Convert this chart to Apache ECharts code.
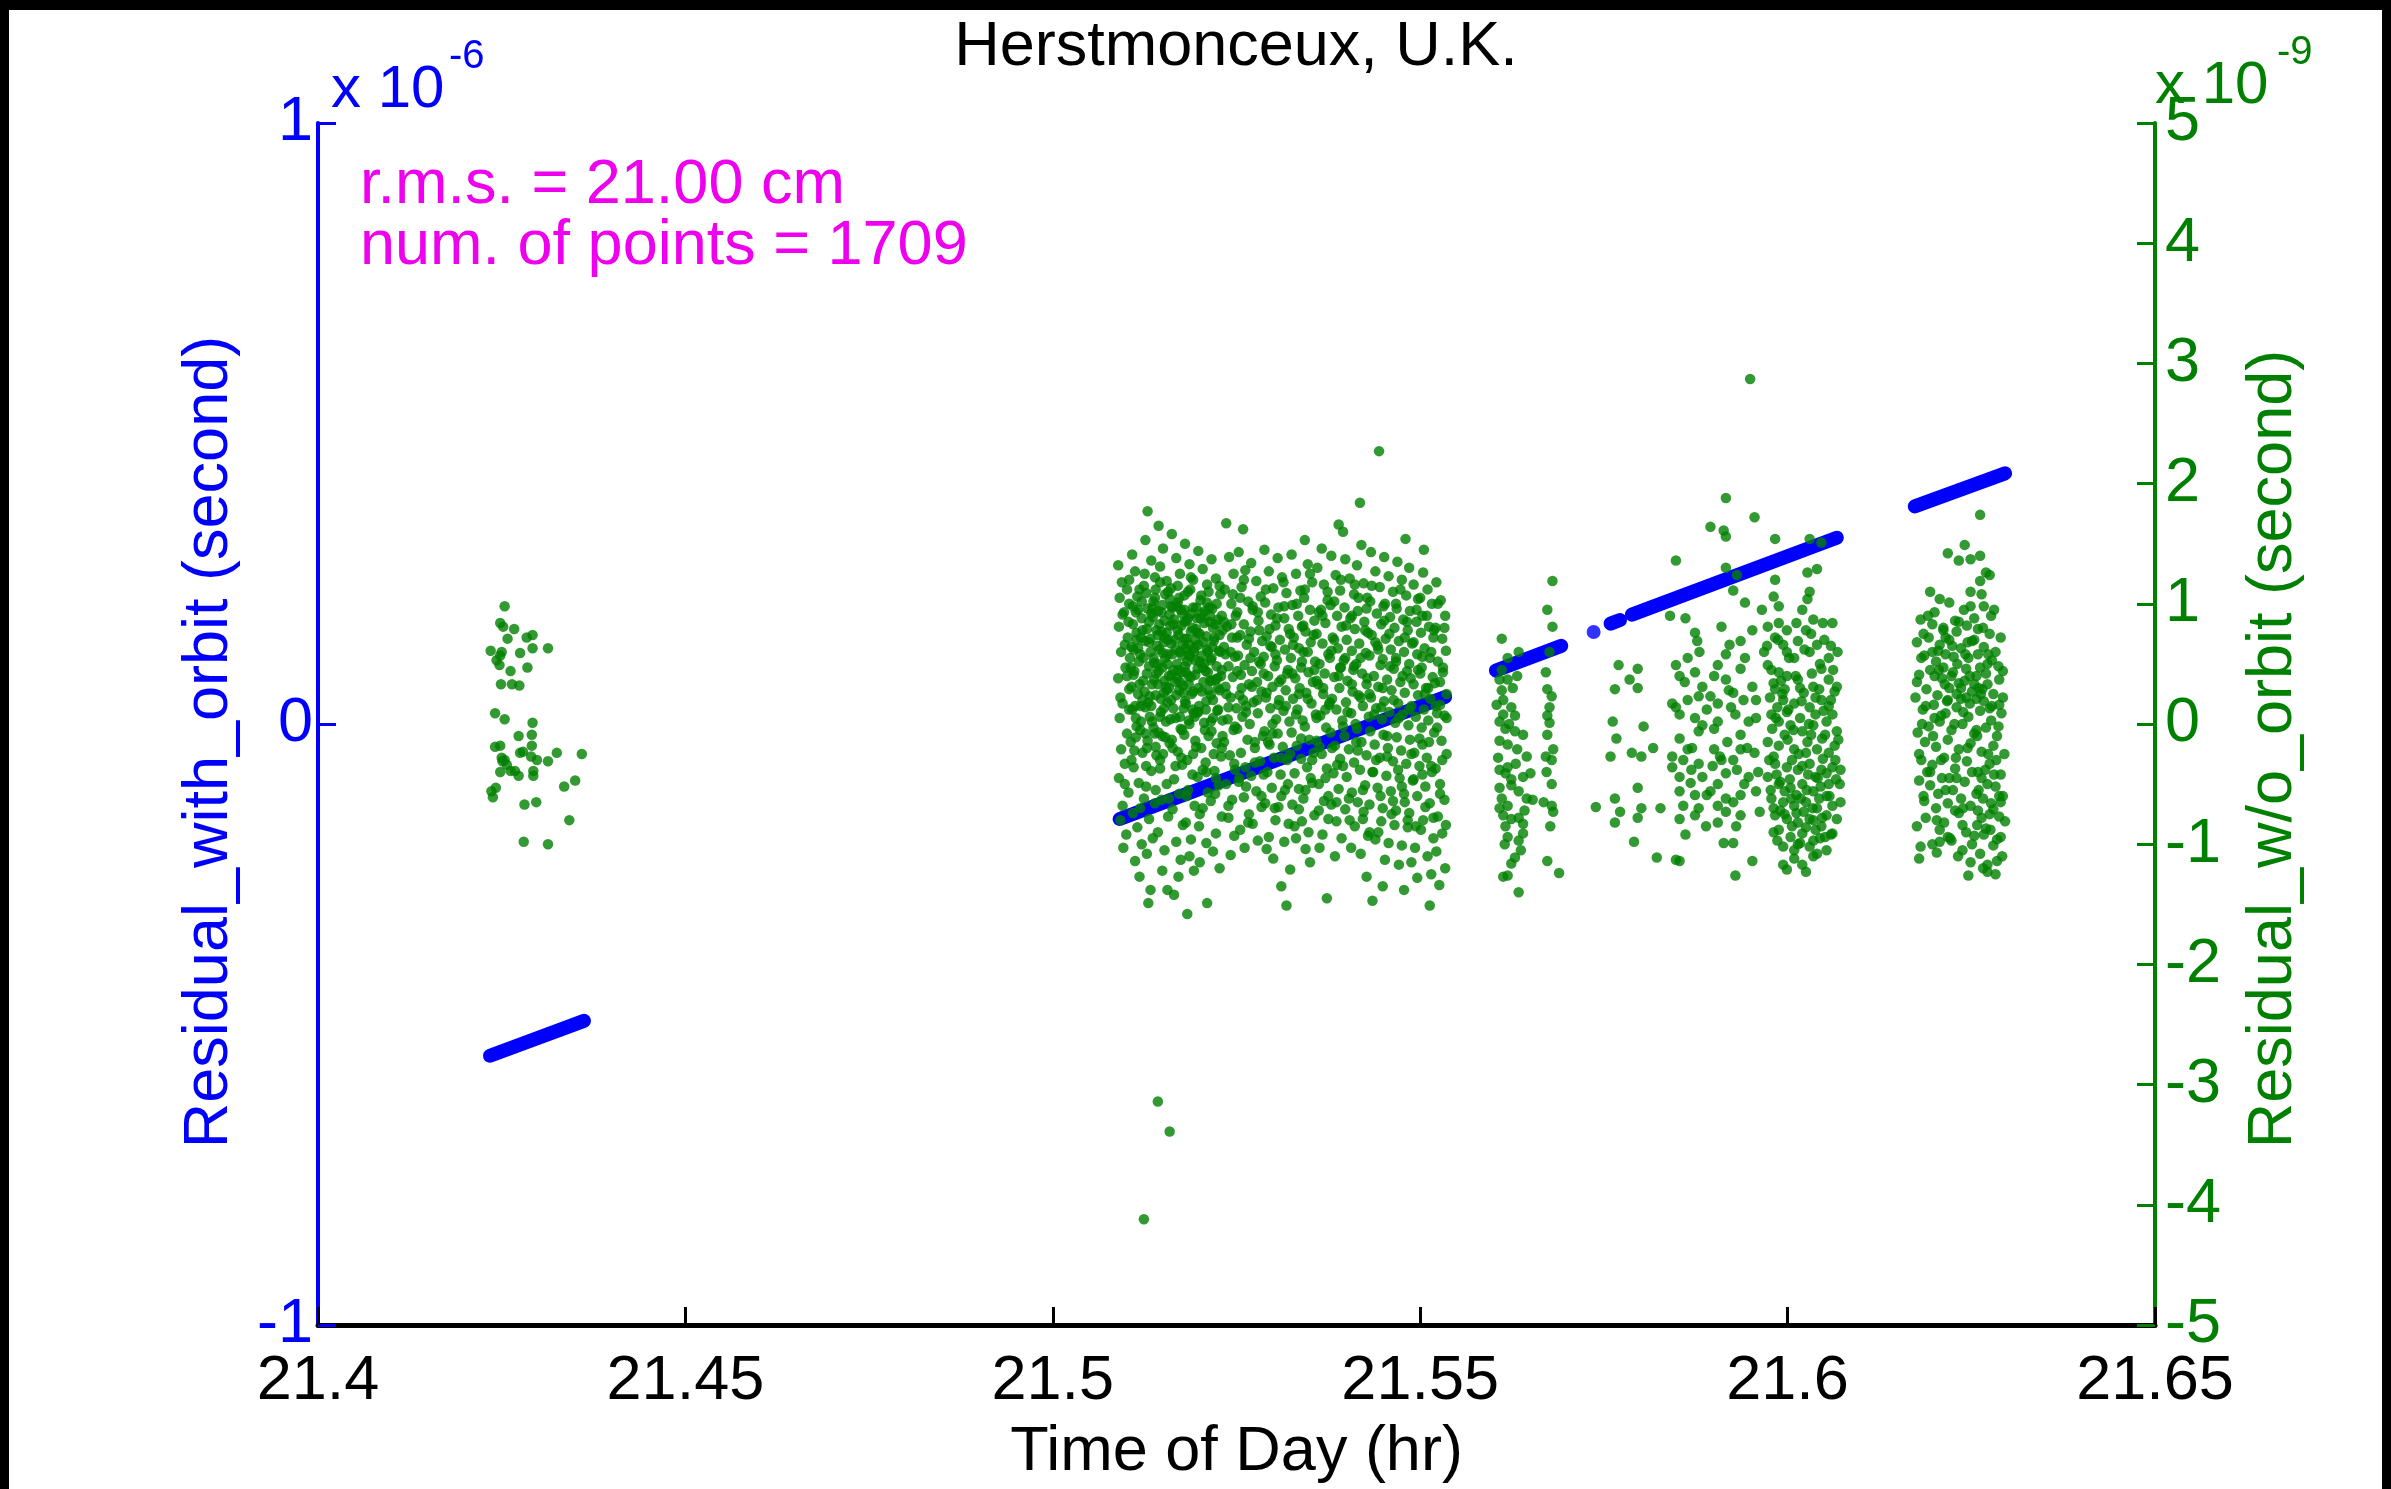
<!DOCTYPE html>
<html>
<head>
<meta charset="utf-8">
<title>Herstmonceux, U.K.</title>
<script src="https://cdn.jsdelivr.net/npm/echarts@6/dist/echarts.min.js"></script>
<style>
  html, body { margin: 0; padding: 0; background: #000; width: 2391px; height: 1489px; overflow: hidden; }
  #chart { position: absolute; left: 9px; top: 10px; width: 2373px; height: 1479px; background: #fff; }
</style>
</head>
<body>
<div id="chart"></div>
<script>
// Time of day axis (hours) and the two residual axes
const timeRange = [21.4, 21.65];
const timeStep = 0.05;
const withOrbitRange = [-1, 1];      // x 10^-6 s
const withoutOrbitRange = [-5, 5];   // x 10^-9 s

// Residual with orbit (x 10^-6 s): continuous passes drawn as thick strokes
const withOrbitSegments = [
  [[21.4234, -0.552], [21.4362, -0.494]],
  [[21.5091, -0.158], [21.5534, 0.045]],
  [[21.5603, 0.089], [21.5692, 0.130]],
  [[21.5759, 0.167], [21.5772, 0.173]],
  [[21.5788, 0.182], [21.6067, 0.310]],
  [[21.6173, 0.362], [21.6296, 0.417]]
];
const withOrbitDots = [[21.5736, 0.153]];

// Residual without orbit (x 10^-9 s), one array per pass
const pass1 = [[21.4254,.98],[21.4248,.84],[21.4252,.81],[21.4267,.79],[21.4258,.71],[21.4292,.74],[21.4292,.63],[21.4313,.63],[21.4235,.61],[21.4250,.60],[21.4275,.59],[21.4243,.53],[21.4247,.49],[21.4285,.47],[21.4262,.44],[21.4249,.33],[21.4264,.33],[21.4274,.32],[21.4241,.09],[21.4254,.04],[21.4292,.01],[21.4273,-.10],[21.4291,-.09],[21.4241,-.19],[21.4291,-.18],[21.4250,-.28],[21.4275,-.24],[21.4290,-.27],[21.4325,-.24],[21.4359,-.25],[21.4251,-.31],[21.4313,-.31],[21.4248,-.40],[21.4262,-.39],[21.4273,-.43],[21.4293,-.39],[21.4293,-.43],[21.4236,-.56],[21.4242,-.53],[21.4238,-.61],[21.4335,-.52],[21.4350,-.47],[21.4281,-.67],[21.4297,-.65],[21.4342,-.80],[21.4280,-.98],[21.4313,-1.00],[21.4248,.57],[21.4284,.72],[21.4254,-.30],[21.4279,-.23],[21.4298,-.30],[21.4268,-.39],[21.4248,-.18],[21.4257,-.34]];

const pass2 = [
[21.5089,1.32],[21.5094,1.18],[21.5091,1.05],[21.5097,.93],[21.5090,.81],[21.5102,.72],[21.5093,.6],[21.5099,.47],[21.5089,.38],[21.5104,.29],[21.5095,.17],[21.5091,.05],[21.5101,-.08],[21.5093,-.21],[21.5098,-.33],[21.5090,-.45],[21.5103,-.57],[21.5095,-.68],[21.5092,-.8],[21.5100,-.92],[21.5096,-1.03],[21.5105,.55],[21.5106,-.15],[21.5104,1.0],
[21.5108,1.41],[21.5112,1.27],[21.5118,1.12],[21.5109,.98],[21.5121,.88],[21.5114,.76],[21.5107,.64],[21.5119,.58],[21.5111,.44],[21.5123,.36],[21.5116,.25],[21.5108,.12],[21.5120,.02],[21.5113,-.11],[21.5122,-.24],[21.5110,-.36],[21.5117,-.49],[21.5124,-.62],[21.5109,-.74],[21.5115,-.86],[21.5121,-1.0],[21.5112,-1.14],[21.5118,-1.27],[21.5114,.7],[21.5120,.15],
[21.5129,1.77],[21.5126,1.53],[21.5134,1.36],[21.5139,1.22],[21.5127,1.09],[21.5136,.97],[21.5131,.85],[21.5141,.78],[21.5125,.69],[21.5133,.6],[21.5138,.51],[21.5128,.42],[21.5135,.33],[21.5140,.24],[21.5126,.14],[21.5132,.06],[21.5137,-.03],[21.5129,-.14],[21.5141,-.26],[21.5134,-.39],[21.5127,-.52],[21.5139,-.66],[21.5131,-.79],[21.5136,-.95],[21.5128,-1.08],[21.5130,-1.49],[21.5133,-1.38],
[21.5144,1.65],[21.5150,1.46],[21.5146,1.31],[21.5155,1.19],[21.5159,1.04],[21.5143,.94],[21.5152,.86],[21.5148,.77],[21.5157,.7],[21.5145,.62],[21.5153,.55],[21.5149,.47],[21.5158,.4],[21.5143,.33],[21.5151,.26],[21.5156,.18],[21.5147,.1],[21.5154,.02],[21.5144,-.07],[21.5159,-.16],[21.5150,-.25],[21.5146,-.37],[21.5155,-.5],[21.5148,-.63],[21.5157,-.77],[21.5143,-.9],[21.5152,-1.05],[21.5149,-1.22],[21.5156,-1.38],
[21.5162,1.58],[21.5168,1.38],[21.5173,1.25],[21.5161,1.13],[21.5170,1.01],[21.5176,.92],[21.5164,.83],[21.5171,.74],[21.5177,.66],[21.5163,.58],[21.5169,.5],[21.5175,.43],[21.5166,.35],[21.5172,.28],[21.5161,.2],[21.5178,.13],[21.5167,.05],[21.5174,-.04],[21.5162,-.13],[21.5170,-.23],[21.5176,-.34],[21.5165,-.46],[21.5172,-.58],[21.5163,-.71],[21.5177,-.84],[21.5168,-.98],[21.5174,-1.13],[21.5165,-1.42],[21.5171,-1.27],
[21.5180,1.5],[21.5186,1.33],[21.5191,1.2],[21.5179,1.07],[21.5195,.97],[21.5184,.88],[21.5190,.8],[21.5182,.71],[21.5193,.63],[21.5187,.56],[21.5180,.48],[21.5194,.41],[21.5185,.33],[21.5189,.25],[21.5181,.17],[21.5192,.09],[21.5186,0],[21.5179,-.09],[21.5195,-.19],[21.5183,-.3],[21.5190,-.42],[21.5184,-.55],[21.5193,-.68],[21.5181,-.82],[21.5188,-.96],[21.5183,-1.58],[21.5192,-1.22],[21.5186,-1.1],
[21.5198,1.44],[21.5204,1.29],[21.5210,1.16],[21.5201,1.03],[21.5207,.94],[21.5213,.85],[21.5197,.76],[21.5205,.68],[21.5211,.6],[21.5200,.52],[21.5208,.44],[21.5214,.36],[21.5203,.27],[21.5209,.19],[21.5198,.1],[21.5206,.01],[21.5212,-.1],[21.5202,-.2],[21.5208,-.32],[21.5197,-.44],[21.5211,-.57],[21.5204,-.7],[21.5199,-.85],[21.5209,-.99],[21.5200,-1.15],[21.5210,-1.49],
[21.5216,1.37],[21.5222,1.21],[21.5228,1.08],[21.5217,.96],[21.5225,.87],[21.5231,.78],[21.5219,.69],[21.5226,.61],[21.5215,.53],[21.5230,.45],[21.5221,.37],[21.5227,.28],[21.5218,.2],[21.5224,.11],[21.5231,.03],[21.5216,-.06],[21.5223,-.16],[21.5229,-.27],[21.5220,-.39],[21.5226,-.51],[21.5215,-.64],[21.5230,-.77],[21.5222,-.91],[21.5218,-1.06],[21.5227,-1.2],
[21.5236,1.67],[21.5240,1.39],[21.5246,1.25],[21.5234,1.12],[21.5243,1.0],[21.5249,.9],[21.5237,.81],[21.5244,.72],[21.5233,.64],[21.5248,.56],[21.5239,.48],[21.5245,.39],[21.5235,.31],[21.5242,.22],[21.5250,.13],[21.5238,.04],[21.5246,-.05],[21.5233,-.15],[21.5241,-.26],[21.5248,-.38],[21.5236,-.5],[21.5244,-.63],[21.5239,-.78],[21.5247,-.93],[21.5242,-1.09],
[21.5259,1.62],[21.5253,1.43],[21.5262,1.28],[21.5257,1.14],[21.5266,1.02],[21.5251,.93],[21.5260,.83],[21.5255,.74],[21.5264,.66],[21.5252,.57],[21.5261,.49],[21.5256,.41],[21.5267,.33],[21.5254,.24],[21.5263,.15],[21.5258,.06],[21.5251,-.04],[21.5265,-.13],[21.5256,-.24],[21.5262,-.36],[21.5253,-.48],[21.5260,-.61],[21.5267,-.75],[21.5255,-.88],[21.5261,-1.03],
[21.5270,1.34],[21.5277,1.19],[21.5283,1.06],[21.5272,.95],[21.5280,.86],[21.5269,.77],[21.5285,.69],[21.5274,.6],[21.5281,.52],[21.5271,.44],[21.5278,.35],[21.5284,.27],[21.5273,.18],[21.5279,.09],[21.5268,0],[21.5286,-.1],[21.5275,-.2],[21.5282,-.31],[21.5270,-.43],[21.5277,-.56],[21.5284,-.69],[21.5272,-.83],[21.5279,-.97],
[21.5288,1.45],[21.5294,1.27],[21.5300,1.13],[21.5289,1.01],[21.5297,.91],[21.5303,.82],[21.5291,.73],[21.5298,.64],[21.5287,.56],[21.5302,.48],[21.5293,.4],[21.5299,.31],[21.5290,.22],[21.5296,.13],[21.5304,.04],[21.5288,-.06],[21.5295,-.17],[21.5301,-.28],[21.5292,-.4],[21.5298,-.53],[21.5289,-.66],[21.5303,-.8],[21.5294,-.94],[21.5291,-1.04],[21.5300,-1.12],
[21.5306,1.38],[21.5312,1.22],[21.5318,1.09],[21.5307,.97],[21.5315,.88],[21.5321,.79],[21.5309,.7],[21.5316,.62],[21.5305,.53],[21.5320,.45],[21.5311,.37],[21.5317,.28],[21.5308,.2],[21.5314,.11],[21.5322,.02],[21.5306,-.08],[21.5313,-.19],[21.5319,-.3],[21.5310,-.42],[21.5316,-.55],[21.5307,-.69],[21.5321,-.83],[21.5311,-1.35],[21.5318,-1.51],[21.5315,-.98],
[21.5323,-1.21],[21.5325,1.41],[21.5331,1.25],[21.5337,1.11],[21.5326,.99],[21.5334,.9],[21.5339,.81],[21.5328,.72],[21.5335,.63],[21.5324,.55],[21.5338,.47],[21.5330,.38],[21.5336,.3],[21.5327,.21],[21.5333,.12],[21.5340,.03],[21.5325,-.07],[21.5332,-.18],[21.5338,-.29],[21.5329,-.41],[21.5335,-.54],[21.5326,-.67],[21.5339,-.81],[21.5331,-.95],
[21.5343,1.53],[21.5347,1.33],[21.5353,1.18],[21.5342,1.05],[21.5350,.95],[21.5356,.86],[21.5344,.77],[21.5351,.68],[21.5341,.6],[21.5357,.52],[21.5348,.43],[21.5354,.35],[21.5345,.26],[21.5352,.17],[21.5358,.08],[21.5343,-.02],[21.5349,-.13],[21.5355,-.24],[21.5346,-.36],[21.5353,-.49],[21.5341,-.62],[21.5356,-.76],[21.5348,-.9],[21.5350,-1.15],[21.5344,-1.04],
[21.5366,1.46],[21.5360,1.3],[21.5369,1.16],[21.5374,1.03],[21.5362,.93],[21.5371,.84],[21.5359,.75],[21.5367,.67],[21.5375,.58],[21.5363,.5],[21.5370,.42],[21.5361,.33],[21.5368,.25],[21.5376,.16],[21.5364,.07],[21.5372,-.03],[21.5359,-.14],[21.5366,-.25],[21.5373,-.37],[21.5362,-.5],[21.5369,-.64],[21.5363,-1.03],[21.5373,-1.45],[21.5375,-.79],[21.5367,-.92],
[21.5389,1.66],[21.5379,1.4],[21.5385,1.24],[21.5391,1.11],[21.5378,.99],[21.5387,.9],[21.5393,.81],[21.5381,.72],[21.5388,.63],[21.5377,.55],[21.5392,.47],[21.5383,.39],[21.5390,.3],[21.5380,.21],[21.5386,.12],[21.5394,.03],[21.5378,-.07],[21.5384,-.18],[21.5391,-.29],[21.5382,-.41],[21.5389,-.54],[21.5379,-.67],[21.5386,-.81],[21.5393,-.95],[21.5384,-1.1],
[21.5395,1.6],[21.5398,1.37],[21.5404,1.21],[21.5410,1.08],[21.5397,.97],[21.5405,.88],[21.5411,.79],[21.5400,.7],[21.5407,.61],[21.5396,.53],[21.5409,.45],[21.5401,.36],[21.5408,.27],[21.5399,.18],[21.5406,.09],[21.5412,0],[21.5397,-.1],[21.5403,-.21],[21.5410,-.32],[21.5400,-.44],[21.5407,-.57],[21.5398,-.71],[21.5406,-1.03],[21.5411,-.85],
[21.5418,1.84],[21.5420,1.49],[21.5414,1.32],[21.5423,1.17],[21.5428,1.05],[21.5415,.94],[21.5424,.85],[21.5429,.76],[21.5417,.67],[21.5426,.59],[21.5413,.5],[21.5421,.42],[21.5427,.33],[21.5416,.24],[21.5422,.15],[21.5430,.06],[21.5414,-.04],[21.5420,-.15],[21.5427,-.26],[21.5418,-.38],[21.5425,-.51],[21.5415,-.65],[21.5422,-.79],[21.5429,-.93],[21.5419,-1.08],[21.5427,-1.27],
[21.5444,2.27],[21.5435,-1.47],[21.5433,1.43],[21.5439,1.27],[21.5445,1.14],[21.5432,1.02],[21.5441,.92],[21.5447,.83],[21.5434,.74],[21.5442,.65],[21.5431,.57],[21.5446,.49],[21.5437,.4],[21.5443,.31],[21.5433,.22],[21.5440,.13],[21.5448,.04],[21.5432,-.06],[21.5438,-.17],[21.5445,-.28],[21.5436,-.4],[21.5442,-.53],[21.5431,-.67],[21.5447,-.81],[21.5439,-.96],
[21.5449,-1.35],[21.5452,-1.13],[21.5451,1.39],[21.5457,1.23],[21.5463,1.1],[21.5450,.98],[21.5459,.89],[21.5465,.8],[21.5453,.71],[21.5460,.62],[21.5449,.54],[21.5464,.46],[21.5455,.37],[21.5461,.28],[21.5451,.19],[21.5458,.1],[21.5466,.01],[21.5450,-.09],[21.5456,-.2],[21.5463,-.31],[21.5454,-.43],[21.5460,-.56],[21.5449,-.7],[21.5465,-.84],[21.5457,-.99],
[21.5480,1.54],[21.5469,1.35],[21.5475,1.2],[21.5481,1.07],[21.5468,.96],[21.5477,.87],[21.5483,.78],[21.5471,.69],[21.5478,.6],[21.5467,.52],[21.5482,.44],[21.5473,.35],[21.5479,.26],[21.5470,.17],[21.5476,.08],[21.5484,-.01],[21.5468,-.11],[21.5474,-.22],[21.5481,-.33],[21.5472,-.45],[21.5478,-.58],[21.5467,-.72],[21.5483,-.86],[21.5475,-1.01],[21.5478,-1.38],[21.5471,-1.17],
[21.5485,1.3],[21.5488,-1.15],[21.5491,1.16],[21.5497,1.04],[21.5486,.94],[21.5495,.85],[21.5501,.76],[21.5489,.67],[21.5496,.58],[21.5485,.5],[21.5500,.42],[21.5491,.33],[21.5497,.24],[21.5488,.15],[21.5494,.06],[21.5502,-.03],[21.5486,-.13],[21.5492,-.24],[21.5499,-.35],[21.5490,-.47],[21.5496,-.6],[21.5485,-.74],[21.5501,-.88],[21.5493,-1.03],[21.5496,-1.28],
[21.5505,1.45],[21.5513,-1.51],[21.5504,1.26],[21.5510,1.12],[21.5516,1.0],[21.5503,.9],[21.5512,.81],[21.5518,.72],[21.5506,.63],[21.5513,.55],[21.5502,.47],[21.5517,.39],[21.5508,.3],[21.5514,.21],[21.5505,.12],[21.5511,.03],[21.5519,-.07],[21.5503,-.17],[21.5509,-.28],[21.5516,-.4],[21.5507,-.52],[21.5513,-.66],[21.5504,-.8],[21.5518,-.95],[21.5510,-1.1],[21.5515,-1.25],
[21.5522,1.18],[21.5528,1.03],[21.5534,.9],[21.5521,.8],[21.5530,.71],[21.5535,.61],[21.5524,.52],[21.5531,.43],[21.5520,.34],[21.5536,.25],[21.5527,.16],[21.5533,.07],[21.5523,-.03],[21.5529,-.14],[21.5536,-.25],[21.5521,-.37],[21.5527,-.5],[21.5533,-.63],[21.5524,-.77],[21.5530,-.91],[21.5522,-1.06],[21.5534,-1.2],[21.5526,-1.34],
[21.5103,.85],[21.5107,.31],[21.5111,-.22],[21.5113,.93],[21.5117,.52],[21.5119,-.05],[21.5122,.78],[21.5125,.27],[21.5127,-.35],[21.5129,.96],[21.5131,.48],[21.5133,.71],[21.5135,.02],[21.5136,.89],[21.5138,.37],[21.5140,-.19],[21.5142,.65],[21.5144,.44],[21.5145,.83],[21.5147,.21],[21.5149,.99],[21.5150,.59],[21.5152,.36],[21.5153,-.11],[21.5155,.76],[21.5156,.5],[21.5158,.3],[21.5159,.91],[21.5161,.67],[21.5162,.41],[21.5164,.13],[21.5165,.87],[21.5167,.62],[21.5168,.24],[21.5170,.78],[21.5171,.45],[21.5173,.06],[21.5174,.95],[21.5176,.57],[21.5177,.32],[21.5179,.71],[21.5180,.19],[21.5182,.86],[21.5183,.52],[21.5185,.03],[21.5186,.66],[21.5188,.39],[21.5189,.92],[21.5191,.27],[21.5192,.6],[21.5194,-.14],[21.5195,.79],[21.5197,.46],[21.5199,.15],[21.5201,.88],[21.5203,.57],[21.5205,.35],[21.5207,-.05],[21.5209,.73],[21.5211,.43],[21.5213,.97],[21.5215,.24],[21.5217,.64],[21.5219,-.25],[21.5221,.83],[21.5223,.48],[21.5225,.12],[21.5227,.74],[21.5229,.4],[21.5231,-.1],[21.5112,.15],[21.5116,.63],[21.5121,1.02],[21.5126,-.08],[21.5132,.23],[21.5139,1.05],[21.5146,-.3],[21.5151,.13],[21.5157,1.1],[21.5163,-.2],[21.5169,.98],[21.5175,-.28],[21.5181,.43],[21.5187,1.12],[21.5193,.06],[21.5198,.66],[21.5204,-.38],[21.5210,1.01],[21.5216,.36],[21.5222,-.45],
[21.5098,.66],[21.5101,1.12],[21.5104,.12],[21.5109,.83],[21.5110,.41],[21.5115,1.06],[21.5118,.33],[21.5120,.72],[21.5123,.55],[21.5124,1.15],[21.5128,.79],[21.5130,.18],[21.5134,.92],[21.5137,.55],[21.5140,1.12],[21.5141,.42],[21.5143,.74],[21.5146,.06],[21.5148,.93],[21.5151,.68],[21.5153,1.08],[21.5154,.31],[21.5157,.58],[21.5160,.82],[21.5160,.04],[21.5163,.97],[21.5166,.7],[21.5169,.38],[21.5172,1.05],[21.5173,.6],[21.5175,.82],[21.5178,.26],[21.5179,.95],[21.5181,.63],[21.5184,1.1],[21.5185,.4],[21.5188,.77],[21.5190,.12],[21.5191,.97],[21.5194,.53],[21.5196,.88],[21.5198,.3],[21.5200,.75],[21.5202,1.07],[21.5204,.47],[21.5206,.84],[21.5208,.12],[21.5210,.62],[21.5212,.28],[21.5214,.9],[21.5216,.55],[21.5218,.05],[21.5220,.72],[21.5223,1.0],[21.5225,.3],[21.5228,.6],[21.5230,.9],[21.5106,.47],[21.5114,-.02],[21.5139,-.08],
[21.5235,.58],[21.5239,.14],[21.5243,.83],[21.5247,-.33],[21.5251,.44],[21.5255,1.05],[21.5259,.2],[21.5263,-.52],[21.5267,.71],[21.5271,.31],[21.5275,-.15],[21.5279,.93],[21.5283,.5],[21.5287,-.42],[21.5291,.26],[21.5295,.79],[21.5299,-.08],[21.5303,.58],[21.5307,.16],[21.5311,-.6],[21.5315,.98],[21.5319,.42],[21.5323,-.25],[21.5327,.66],[21.5331,.08],[21.5335,-.71],[21.5339,.52],[21.5343,1.12],[21.5347,.21],[21.5351,-.45],[21.5355,.74],[21.5359,.36],[21.5363,-.19],[21.5367,.9],[21.5371,.12],[21.5375,-.6],[21.5379,.61],[21.5383,1.02],[21.5387,-.34],[21.5391,.47],[21.5395,-.02],[21.5399,.82],[21.5403,-.62],[21.5407,.33],[21.5411,1.16],[21.5415,-.22],[21.5419,.55],[21.5423,-.73],[21.5427,.96],[21.5431,.25],[21.5435,-.4],[21.5439,.68],[21.5443,-.9],[21.5447,.14],[21.5451,.86],[21.5455,-.27],[21.5459,.48],[21.5463,-.64],[21.5467,1.0],[21.5471,.05],[21.5475,-.52],[21.5479,.72],[21.5483,-.8],[21.5487,.38],[21.5491,-.46],[21.5495,.95],[21.5499,-.12],[21.5503,.56],[21.5507,-.69],[21.5511,.3],[21.5515,-.35],[21.5519,.78],[21.5523,.09],[21.5527,-.58],[21.5531,.47],[21.5535,-.84],
[21.5092,.22],[21.5095,.91],[21.5098,-.5],[21.5101,.4],[21.5104,1.2],[21.5107,-.3],[21.5110,.62],[21.5113,.05],[21.5116,.95],[21.5119,-.7],[21.5122,.2],[21.5125,1.25],[21.5128,-.2],[21.5131,.68],[21.5134,.15],[21.5137,1.02],[21.5140,-.55],[21.5143,.5],[21.5146,1.18],[21.5149,-.1],[21.5152,.72],[21.5155,.28],[21.5158,-.62],[21.5161,.98],[21.5164,.45],[21.5167,-.35],[21.5170,1.15],[21.5173,.35],[21.5176,-.05],[21.5179,.85],[21.5182,-.6],[21.5185,.58],[21.5188,1.22],[21.5191,-.25],[21.5194,.7],[21.5197,.1],[21.5200,-.75],[21.5203,.92],[21.5206,.5],[21.5209,-.4],[21.5212,1.1],[21.5215,.02],[21.5218,.8],[21.5221,-.58],[21.5224,.38],[21.5227,1.15],[21.5230,-.2],[21.5233,.85],[21.5236,.25],[21.5239,-.68],[21.5242,.6],[21.5245,1.08],[21.5248,-.02],[21.5251,.72],[21.5254,-.45],[21.5257,.3],[21.5260,1.2],[21.5263,.1],[21.5266,-.82],[21.5269,.55],[21.5272,.98],[21.5275,-.32],[21.5278,.2],[21.5281,.78],[21.5284,-.6],[21.5287,.42],[21.5290,1.12],[21.5293,-.15],[21.5296,.65],[21.5299,0],[21.5302,-.7],[21.5305,.88],[21.5308,.35],[21.5311,-.28],[21.5314,1.18],[21.5317,.15],[21.5320,-.5],[21.5323,.75],[21.5326,.42],[21.5329,-.85],[21.5332,1.0],[21.5335,.25],[21.5338,-.12],[21.5341,.82],[21.5344,-.55],[21.5347,.6],[21.5350,1.25],[21.5353,-.3],[21.5356,.45],[21.5359,.05],[21.5362,-.72],[21.5365,.95],[21.5368,.3],[21.5371,-.45],[21.5374,1.1],[21.5377,.18],[21.5380,-.2],[21.5383,.7],[21.5386,-.65],[21.5389,.4],[21.5392,1.2],[21.5395,-.35],[21.5398,.55],[21.5401,.1],[21.5404,-.8],[21.5407,.9],[21.5410,.48],[21.5413,-.15],[21.5416,1.05],[21.5419,.22],[21.5422,-.55],[21.5425,.78],[21.5428,.38],[21.5431,-.9],[21.5434,1.15],[21.5437,.08],[21.5440,-.3],[21.5443,.62],[21.5446,-.6],[21.5449,.3],[21.5452,1.0],[21.5455,-.1],[21.5458,.75],[21.5461,-.75],[21.5464,.2],[21.5467,.55],[21.5470,-.38],[21.5473,1.12],[21.5476,.4],[21.5479,-.65],[21.5482,.85],[21.5485,.12],[21.5488,-.25],[21.5491,.68],[21.5494,-.85],[21.5497,.45],[21.5500,1.05],[21.5503,-.42],[21.5506,.25],[21.5509,.9],[21.5512,-.15],[21.5515,.6],[21.5518,-.78],[21.5521,.15],[21.5524,1.0],[21.5527,.35],[21.5530,-.3],[21.5533,.8],[21.5536,.05],
[21.5143,-3.14],[21.5159,-3.39],[21.5124,-4.12]
];

const pass3 = [[21.5680,1.19],[21.5673,.95],[21.5680,.81],[21.5611,.71],[21.5634,.60],[21.5619,.55],[21.5676,.60],[21.5608,.37],[21.5619,.37],[21.5632,.40],[21.5611,.28],[21.5613,.20],[21.5624,.14],[21.5613,.08],[21.5671,.43],[21.5673,.29],[21.5679,.23],[21.5676,.14],[21.5673,.07],[21.5676,.01],[21.5616,-.04],[21.5629,-.06],[21.5640,-.09],[21.5608,-.14],[21.5619,-.17],[21.5632,-.21],[21.5681,-.21],[21.5671,-.27],[21.5679,-.30],[21.5606,-.28],[21.5645,-.27],[21.5616,-.41],[21.5624,-.46],[21.5640,-.44],[21.5608,-.53],[21.5624,-.51],[21.5634,-.56],[21.5645,-.62],[21.5653,-.63],[21.5668,-.65],[21.5679,-.68],[21.5681,-.73],[21.5611,-.62],[21.5619,-.68],[21.5613,-.76],[21.5624,-.79],[21.5634,-.78],[21.5640,-.83],[21.5616,-.85],[21.5619,-.94],[21.5634,-.97],[21.5640,-.91],[21.5637,-1.05],[21.5629,-1.11],[21.5624,-1.16],[21.5619,-1.26],[21.5613,-1.27],[21.5634,-1.40],[21.5673,-1.14],[21.5689,-1.24],[21.5608,.02],[21.5629,.07],[21.5608,-.38],[21.5673,-.09],[21.5679,-.50],[21.5619,-.36],[21.5650,-.41],
[21.5611,.45],[21.5626,.3],[21.5608,-.7],[21.5630,-.33],[21.5615,-1.0],[21.5672,-.4],[21.5677,-.85],[21.5621,0],[21.5604,.16],[21.5642,-.72]];

const pass4 = [[21.5949,2.87],[21.5916,1.88],[21.5895,1.64],[21.5913,1.61],[21.5916,1.56],[21.5955,1.72],[21.5848,1.36],[21.5916,1.30],[21.5931,1.24],[21.5983,1.54],[21.6030,1.54],[21.6046,1.51],[21.5983,1.20],[21.5926,1.11],[21.5942,1.01],[21.5965,.95],[21.5981,1.06],[21.5988,.98],[21.6027,1.26],[21.6040,1.29],[21.6030,1.10],[21.6027,1.04],[21.5840,.90],[21.5861,.88],[21.5874,.76],[21.5877,.69],[21.5910,.81],[21.5921,.66],[21.5936,.69],[21.5952,.78],[21.5916,.58],[21.5973,.81],[21.5988,.84],[21.5983,.72],[21.5994,.66],[21.6012,.84],[21.6025,.78],[21.6035,.87],[21.6048,.84],[21.6059,.65],[21.5999,.60],
[21.5770,.49],[21.5796,.46],[21.5785,.37],[21.5765,.29],[21.5796,.30],[21.5762,.02],[21.5767,-.12],[21.5759,-.27],[21.5804,-.02],[21.5788,-.24],[21.5801,-.27],[21.5817,-.20],[21.5796,-.53],[21.5765,-.62],[21.5772,-.73],[21.5739,-.69],[21.5796,-.78],[21.5801,-.70],[21.5765,-.82],[21.5791,-.98],[21.5822,-1.11],[21.5848,-1.13],[21.5853,-1.14],
[21.5848,.49],[21.5843,.17],[21.5864,.20],[21.5879,.23],[21.5895,.23],[21.5905,.17],[21.5923,.14],[21.5848,.14],[21.5853,.08],[21.5874,.05],[21.5884,-.01],[21.5905,.02],[21.5929,.08],[21.5947,.02],[21.5957,.05],[21.5879,-.06],[21.5853,-.12],[21.5864,-.21],[21.5843,-.27],[21.5858,-.30],[21.5879,-.33],[21.5900,-.21],[21.5908,-.27],[21.5926,-.30],[21.5936,-.21],[21.5955,-.24],[21.5843,-.36],[21.5853,-.44],[21.5869,-.38],[21.5884,-.44],[21.5905,-.50],[21.5916,-.41],[21.5931,-.38],[21.5947,-.44],[21.5853,-.56],[21.5874,-.59],[21.5895,-.56],[21.5916,-.62],[21.5936,-.59],[21.5957,-.56],[21.5858,-.68],[21.5879,-.70],[21.5905,-.68],[21.5926,-.65],[21.5827,-.70],[21.5853,-.79],[21.5874,-.76],[21.5905,-.82],[21.5916,-.73],[21.5936,-.76],[21.5962,-.73],[21.5913,-.99],[21.5926,-.99],[21.5952,-1.14],[21.5929,-1.26],[21.5890,-.59],[21.5900,-.04],[21.5936,-.09],
[21.5853,.40],[21.5874,.43],[21.5900,.40],[21.5916,.37],[21.5936,.46],[21.5952,.31],[21.5884,.31],[21.5905,.49],[21.5864,.55],[21.5942,.55],[21.5957,.20],[21.5926,.26],
[21.5973,.49],[21.5988,.43],[21.5999,.40],[21.6014,.37],[21.6035,.31],[21.6056,.37],[21.6067,.31],[21.5983,.29],[21.5994,.20],[21.6009,.17],[21.6030,.14],[21.6046,.20],[21.6061,.08],[21.5978,.08],[21.5988,.02],[21.6004,-.01],[21.6020,-.06],[21.6035,-.01],[21.6051,-.09],[21.6067,-.06],[21.5973,-.15],[21.5988,-.18],[21.6009,-.21],[21.6025,-.24],[21.6040,-.21],[21.6056,-.24],[21.5983,-.33],[21.5999,-.36],[21.6014,-.38],[21.6030,-.33],[21.6046,-.38],[21.6061,-.36],[21.5973,-.44],[21.5988,-.50],[21.6004,-.53],[21.6020,-.50],[21.6035,-.56],[21.6056,-.50],[21.5978,-.62],[21.5994,-.65],[21.6009,-.68],[21.6025,-.65],[21.6040,-.70],[21.6061,-.68],[21.5983,-.76],[21.5999,-.79],[21.6014,-.82],[21.6030,-.79],[21.6046,-.85],[21.6067,-.79],[21.5988,-.88],[21.6004,-.94],[21.6020,-.91],[21.6035,-.97],[21.6051,-.94],[21.5994,-1.02],[21.6009,-1.05],[21.6030,-1.02],[21.6040,-1.08],[21.5994,-1.17],[21.5999,-1.21],[21.6020,-1.17],[21.6025,-1.23],[21.6072,-.65],[21.6072,-.38],
[21.6020,.95],[21.6040,.66],[21.6056,.55],[21.6009,.55],[21.6030,.60],[21.6061,.84],[21.6046,.46],[21.5968,.60],[21.5999,.78],[21.6014,.69],
[21.5981,.34],[21.5996,.29],[21.6022,.26],[21.6043,.29],[21.6059,.20],[21.5986,.14],[21.6017,.05],[21.6038,.08],[21.6053,.02],[21.5996,-.09],[21.6027,-.15],[21.6064,-.18],[21.5981,-.27],[21.6006,-.30],[21.6038,-.44],[21.6053,-.41],[21.5996,-.56],[21.6012,-.59],[21.6043,-.62],[21.5981,-.70],[21.6022,-.73],[21.6053,-.76],[21.6006,-.85],[21.6038,-.88],[21.6061,-.91],[21.6017,-.99],[21.6053,-1.05],
[21.5976,.22],[21.5991,.36],[21.6001,.12],[21.6019,.19],[21.6033,.42],[21.6049,.11],[21.6064,.27],[21.5979,-.04],[21.6000,-.13],[21.6015,-.25],[21.6032,-.09],[21.6048,-.29],[21.6069,-.13],[21.5985,-.42],[21.6003,-.46],[21.6028,-.42],[21.6045,-.52],[21.6066,-.46],[21.5977,-.55],[21.6018,-.62],[21.6034,-.7],[21.6057,-.6],[21.5990,-.72],[21.6012,-.74],[21.6047,-.78],[21.5986,-.97],[21.6025,-.86],[21.6044,-.95],[21.6009,-1.12],[21.6035,-1.1],
[21.5860,.35],[21.5890,.12],[21.5918,-.15],[21.5868,-.49],[21.5898,-.35],[21.5941,-.5],[21.5861,-.92],[21.5889,-.85],[21.5945,-.2],[21.5920,.28],
[21.5972,.65],[21.5975,-.3],[21.5978,.45],[21.5981,-.9],[21.5984,.05],[21.5987,.7],[21.5990,-.48],[21.5993,.25],[21.5996,-.75],[21.5999,.1],[21.6002,.55],[21.6005,-.62],[21.6008,-.05],[21.6011,.4],[21.6014,-1.0],[21.6017,.3],[21.6020,-.35],[21.6023,.62],[21.6026,-.55],[21.6029,0],[21.6032,.75],[21.6035,-.8],[21.6038,.22],[21.6041,-.45],[21.6044,.5],[21.6047,-.12],[21.6050,.7],[21.6053,-.6],[21.6056,.15],[21.6059,-.92],[21.6062,.45],[21.6065,-.3],[21.6068,.6],[21.6071,-.5],[21.5880,.6],[21.5910,-.3],[21.5940,.2],[21.5870,-.2],[21.5930,-.85],[21.5960,-.4]];

const pass5 = [[21.6262,1.74],[21.6218,1.42],[21.6233,1.36],[21.6241,1.49],[21.6249,1.37],[21.6262,1.40],[21.6262,1.19],[21.6275,1.24],[21.6270,1.26],[21.6249,1.10],[21.6264,1.08],[21.6194,1.10],[21.6207,1.04],[21.6220,1.01],[21.6249,.98],[21.6267,.98],
[21.6181,.87],[21.6197,.83],[21.6212,.80],[21.6228,.86],[21.6244,.82],[21.6259,.79],[21.6275,.75],[21.6290,.72],
[21.6176,.68],[21.6192,.72],[21.6207,.66],[21.6220,.70],[21.6236,.63],[21.6251,.69],[21.6267,.64],[21.6283,.60],
[21.6186,.57],[21.6202,.52],[21.6215,.58],[21.6231,.50],[21.6246,.55],[21.6262,.47],[21.6278,.53],[21.6293,.44],
[21.6179,.41],[21.6194,.45],[21.6210,.38],[21.6225,.43],[21.6241,.36],[21.6257,.40],[21.6272,.33],[21.6288,.37],
[21.6189,.29],[21.6204,.24],[21.6220,.30],[21.6236,.21],[21.6251,.27],[21.6267,.19],[21.6280,.25],[21.6174,.22],
[21.6184,.12],[21.6199,.16],[21.6215,.09],[21.6230,.14],[21.6246,.06],[21.6262,.11],[21.6277,.03],[21.6291,.09],
[21.6192,-.02],[21.6207,.02],[21.6223,-.05],[21.6238,0],[21.6254,-.08],[21.6270,-.03],[21.6285,-.10],[21.6177,-.07],
[21.6187,-.15],[21.6202,-.19],[21.6218,-.13],[21.6233,-.21],[21.6249,-.16],[21.6264,-.23],[21.6280,-.18],[21.6295,-.25],
[21.6205,.61],[21.6226,.56],[21.6243,.46],[21.6259,.58],[21.6212,.47],[21.6233,.34],[21.6254,.33],[21.6270,.42],[21.6217,.19],[21.6239,.10],[21.6257,.21],[21.6275,.13],[21.6223,.40],[21.6248,.17],[21.6265,.29],[21.6209,.07],
[21.6182,-.30],[21.6197,-.34],[21.6213,-.28],[21.6228,-.37],[21.6244,-.31],[21.6259,-.40],[21.6275,-.33],[21.6290,-.42],
[21.6179,-.47],[21.6194,-.51],[21.6210,-.45],[21.6225,-.55],[21.6241,-.48],[21.6257,-.58],[21.6272,-.50],[21.6288,-.60],
[21.6186,-.64],[21.6202,-.70],[21.6218,-.66],[21.6233,-.74],[21.6249,-.68],[21.6264,-.78],[21.6280,-.71],[21.6296,-.81],
[21.6176,-.85],[21.6207,-.88],[21.6238,-.84],[21.6254,-.93],[21.6270,-.87],[21.6285,-.96],[21.6223,-.97],
[21.6181,-1.02],[21.6197,-1.00],[21.6207,-.98],[21.6218,-.94],[21.6238,-1.05],[21.6262,-1.08],[21.6280,-1.01],[21.6290,-.94],
[21.6179,-1.12],[21.6249,-1.15],[21.6272,-1.17],[21.6246,-1.26],[21.6272,-1.23],[21.6285,-1.14],
[21.6264,-.45],[21.6283,-.52],[21.6277,-.66],[21.6267,-.92],[21.6259,-.72],[21.6288,-.77],
[21.6185,.75],[21.6200,.4],[21.6215,.72],[21.6230,.25],[21.6245,.68],[21.6260,.3],[21.6273,.58],[21.6288,.16],[21.6183,0],[21.6198,-.1],[21.6214,.33],[21.6229,-.28],[21.6243,.22],[21.6258,-.1],[21.6273,-.25],[21.6287,-.02],[21.6190,-.4],[21.6205,-.58],[21.6220,-.45],[21.6236,-.62],[21.6251,-.4],[21.6266,-.62],[21.6281,-.42],[21.6293,-.6],[21.6188,-.78],[21.6213,-.82],[21.6228,-.72],[21.6243,-.9],[21.6258,-.84],[21.6276,-.88],[21.6292,-1.1],[21.6266,-1.2],[21.6283,-1.25],[21.6232,-1.1],[21.6203,-1.07],[21.6254,.88],[21.6230,.77],[21.6277,.9],[21.6200,.93],[21.6240,.95],
[21.6176,.35],[21.6179,-.25],[21.6182,.55],[21.6185,-.6],[21.6188,.15],[21.6191,.9],[21.6194,-.4],[21.6197,.6],[21.6200,.05],[21.6203,-.8],[21.6206,.45],[21.6209,-.3],[21.6212,.78],[21.6215,-.55],[21.6218,.2],[21.6221,-.95],[21.6224,.65],[21.6227,0],[21.6230,-.45],[21.6233,.85],[21.6236,.3],[21.6239,-.7],[21.6242,.58],[21.6245,-.2],[21.6248,.4],[21.6251,-1.0],[21.6254,.7],[21.6257,-.05],[21.6260,-.55],[21.6263,.25],[21.6266,.8],[21.6269,-.38],[21.6272,.5],[21.6275,-.75],[21.6278,.15],[21.6281,.95],[21.6284,-.3],[21.6287,.48],[21.6290,-.65],[21.6293,.22]];

const titleText = 'Herstmonceux, U.K.';
const rmsText = 'r.m.s. = 21.00 cm';
const countText = 'num. of points = 1709';

const BLUE = '#0000ff';
const GREEN = '#008000';
const MAGENTA = '#ee00ee';
const FONT = '"Liberation Sans", Arial, Helvetica, sans-serif';
const FS = 63;

const chart = echarts.init(document.getElementById('chart'), null, { renderer: 'canvas' });

function txt(x, y, text, size, color, align, rot) {
  return {
    type: 'text', x: x, y: y, rotation: rot || 0, silent: true, z: 10,
    style: {
      text: text, fontSize: size, fontFamily: FONT, fill: color,
      align: align, verticalAlign: 'middle',
      textAlign: align, textVerticalAlign: 'middle'
    }
  };
}

const series = [];
withOrbitSegments.forEach(function (seg) {
  series.push({
    type: 'line', yAxisIndex: 0, data: seg, symbol: 'none', showSymbol: false,
    lineStyle: { color: BLUE, width: 14, cap: 'round' }, silent: true, z: 2
  });
});
series.push({
  type: 'scatter', yAxisIndex: 0, data: withOrbitDots, symbol: 'circle', symbolSize: 14,
  itemStyle: { color: BLUE }, silent: true, z: 2
});
series.push({
  type: 'scatter', yAxisIndex: 1, data: [].concat(pass1, pass2, pass3, pass4, pass5),
  symbol: 'circle', symbolSize: 10.5, itemStyle: { color: GREEN }, silent: true, z: 3
});

chart.setOption({
  animation: false,
  backgroundColor: '#ffffff',
  grid: { left: 309, right: 227, top: 113, bottom: 163, containLabel: false },
  xAxis: {
    type: 'value', min: timeRange[0], max: timeRange[1], interval: timeStep,
    name: 'Time of Day (hr)', nameLocation: 'middle', nameGap: 96,
    nameTextStyle: { color: '#000', fontSize: FS, fontFamily: FONT },
    axisLine: { onZero: false, lineStyle: { color: '#000', width: 5 } },
    axisTick: { inside: true, length: 18, lineStyle: { color: '#000', width: 3 } },
    axisLabel: { color: '#000', fontSize: FS, fontFamily: FONT, margin: 25,
      showMinLabel: true, showMaxLabel: true,
      formatter: function (v) { return String(+v.toFixed(2)); } },
    splitLine: { show: false }
  },
  yAxis: [{
    type: 'value', position: 'left', min: withOrbitRange[0], max: withOrbitRange[1], interval: 1,
    axisLine: { show: true, onZero: false, lineStyle: { color: BLUE, width: 4 } },
    axisTick: { show: true, inside: true, length: 18, lineStyle: { color: BLUE, width: 3 } },
    axisLabel: { color: BLUE, fontSize: FS, fontFamily: FONT, margin: 5 },
    splitLine: { show: false }
  }, {
    type: 'value', position: 'right', min: withoutOrbitRange[0], max: withoutOrbitRange[1], interval: 1,
    axisLine: { show: true, onZero: false, lineStyle: { color: GREEN, width: 4 } },
    axisTick: { show: true, inside: true, length: 18, lineStyle: { color: GREEN, width: 3 } },
    axisLabel: { color: GREEN, fontSize: FS, fontFamily: FONT, margin: 10 },
    splitLine: { show: false }
  }],
  graphic: { elements: [
    txt(1227, 38, titleText, FS, '#000', 'center'),
    txt(351, 176, rmsText, FS, MAGENTA, 'left'),
    txt(351, 237, countText, FS, MAGENTA, 'left'),
    txt(322, 80, 'x 10', 60, BLUE, 'left'),
    txt(440, 47, '-6', 40, BLUE, 'left'),
    txt(2146, 76, 'x 10', 60, GREEN, 'left'),
    txt(2268, 43, '-9', 40, GREEN, 'left'),
    txt(201, 732, 'Residual_with_orbit (second)', FS, BLUE, 'center', Math.PI / 2),
    txt(2265, 739, 'Residual_w/o_orbit (second)', FS, GREEN, 'center', Math.PI / 2)
  ] },
  series: series
});
</script>
</body>
</html>
